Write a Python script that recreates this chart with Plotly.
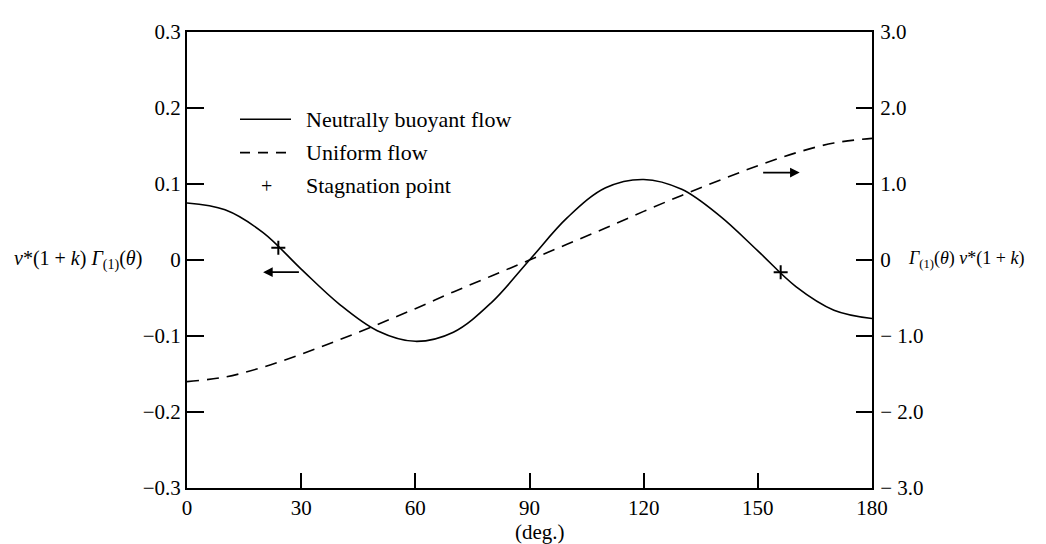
import plotly.graph_objects as go

# ---- data ----
theta = [0, 10, 20, 30, 40, 50, 60, 70, 80, 90, 100, 110, 120, 130, 140, 150, 160, 170, 180]
neutral_flow = [0.075, 0.066, 0.036, -0.012, -0.058, -0.093, -0.107, -0.095, -0.056, 0.0,
                0.056, 0.095, 0.106, 0.093, 0.058, 0.012, -0.035, -0.066, -0.077]
uniform_flow = [-1.60, -1.54, -1.41, -1.24, -1.05, -0.85, -0.64, -0.42, -0.21, 0.0,
                0.21, 0.42, 0.64, 0.85, 1.05, 1.24, 1.41, 1.54, 1.60]

stag_theta = [24, 156]
stag_value = [0.016, -0.016]

x_ticks = [0, 30, 60, 90, 120, 150, 180]
x_ticklabels = ["0", "30", "60", "90", "120", "150", "180"]
left_ticks = [0.3, 0.2, 0.1, 0, -0.1, -0.2, -0.3]
left_ticklabels = ["0.3", "0.2", "0.1", "0", "\u22120.1", "\u22120.2", "\u22120.3"]
right_ticks = [3, 2, 1, 0, -1, -2, -3]
right_ticklabels = ["3.0", "2.0", "1.0", "0", "\u2212 1.0", "\u2212 2.0", "\u2212 3.0"]

legend_labels = ["Neutrally buoyant flow", "Uniform flow", "Stagnation point"]

FONT = "Liberation Serif"
W, H = 1046, 544
L, R, T, B = 179, 182, 15, 64
PW, PH = W - L - R, H - T - B


def px_x(px):
    return (px - L) / PW


def px_y(py):
    return (H - B - py) / PH


fig = go.Figure()
fig.add_trace(go.Scatter(x=theta, y=neutral_flow, mode="lines",
                         line=dict(color="black", width=1.6, shape="spline", smoothing=1.0),
                         showlegend=False, yaxis="y"))
fig.add_trace(go.Scatter(x=theta, y=uniform_flow, mode="lines",
                         line=dict(color="black", width=1.6, dash="12px,8px", shape="spline", smoothing=1.0),
                         showlegend=False, yaxis="y2"))
fig.add_trace(go.Scatter(x=stag_theta, y=stag_value, mode="markers",
                         marker=dict(symbol="cross-thin", size=10, line=dict(color="black", width=2)),
                         showlegend=False, yaxis="y"))

# legend drawn by hand
rows_y = [104, 138, 172]
shapes = [
    dict(type="line", xref="paper", yref="paper", x0=px_x(232), x1=px_x(283), y0=px_y(rows_y[0]), y1=px_y(rows_y[0]),
         line=dict(color="black", width=1.6)),
    dict(type="line", xref="paper", yref="paper", x0=px_x(232), x1=px_x(283), y0=px_y(rows_y[1]), y1=px_y(rows_y[1]),
         line=dict(color="black", width=1.6, dash="10px,8px")),
]
annotations = []
for i, lab in enumerate(legend_labels):
    annotations.append(dict(xref="paper", yref="paper", x=px_x(296), y=px_y(rows_y[i]), text=lab, showarrow=False,
                            xanchor="left", yanchor="middle", font=dict(family=FONT, size=22, color="black")))
annotations.append(dict(xref="paper", yref="paper", x=px_x(258), y=px_y(rows_y[2]), text="+", showarrow=False,
                        xanchor="center", yanchor="middle", font=dict(family=FONT, size=20, color="black")))

# arrows pointing to the relevant axis
annotations.append(dict(xref="x", yref="y", axref="x", ayref="y", x=20, y=-0.016, ax=29.8, ay=-0.016,
                        showarrow=True, arrowhead=2, arrowsize=1.2, arrowwidth=1.6, arrowcolor="black", text=""))
annotations.append(dict(xref="x", yref="y2", axref="x", ayref="y2", x=161, y=1.15, ax=151, ay=1.15,
                        showarrow=True, arrowhead=2, arrowsize=1.2, arrowwidth=1.6, arrowcolor="black", text=""))

# axis titles
annotations.append(dict(xref="paper", yref="paper", x=px_x(4), y=px_y(247), xanchor="left", yanchor="middle",
                        text="<i>\u03bd</i>*(1 + <i>k</i>) <i>\u0393</i><sub>(1)</sub>(<i>\u03b8</i>)", showarrow=False,
                        font=dict(family=FONT, size=20, color="black")))
annotations.append(dict(xref="paper", yref="paper", x=px_x(898), y=px_y(247), xanchor="left", yanchor="middle",
                        text="<i>\u0393</i><sub>(1)</sub>(<i>\u03b8</i>) <i>\u03bd</i>*(1 + <i>k</i>)", showarrow=False,
                        font=dict(family=FONT, size=18, color="black")))
annotations.append(dict(xref="paper", yref="paper", x=px_x(532), y=px_y(525), xanchor="center", yanchor="middle",
                        text="(deg.)", showarrow=False, font=dict(family=FONT, size=21, color="black")))

tickfont = dict(family=FONT, size=21, color="black")
fig.update_layout(
    width=W, height=H,
    margin=dict(l=L, r=R, t=T, b=B, pad=0),
    paper_bgcolor="white", plot_bgcolor="white",
    font=dict(family=FONT, size=20, color="black"),
    showlegend=False,
    xaxis=dict(range=[0, 180], tickvals=x_ticks, ticktext=x_ticklabels, ticks="inside", ticklen=15, tickwidth=1.6,
               tickcolor="black", showline=True, linecolor="black", linewidth=2, mirror=True, showgrid=False,
               zeroline=False, tickfont=tickfont, ticklabelstandoff=0),
    yaxis=dict(range=[-0.3, 0.3], tickvals=left_ticks, ticktext=left_ticklabels, ticks="inside", ticklen=17,
               tickwidth=1.6, tickcolor="black", showline=True, linecolor="black", linewidth=2, showgrid=False,
               zeroline=False, tickfont=tickfont),
    yaxis2=dict(range=[-3, 3], tickvals=right_ticks, ticktext=right_ticklabels, ticks="inside", ticklen=16,
                tickwidth=1.6, tickcolor="black", showline=True, linecolor="black", linewidth=2, showgrid=False,
                zeroline=False, overlaying="y", side="right", tickfont=tickfont, ticklabelstandoff=2),
    shapes=shapes,
    annotations=annotations,
)

fig.write_html("out.html")
